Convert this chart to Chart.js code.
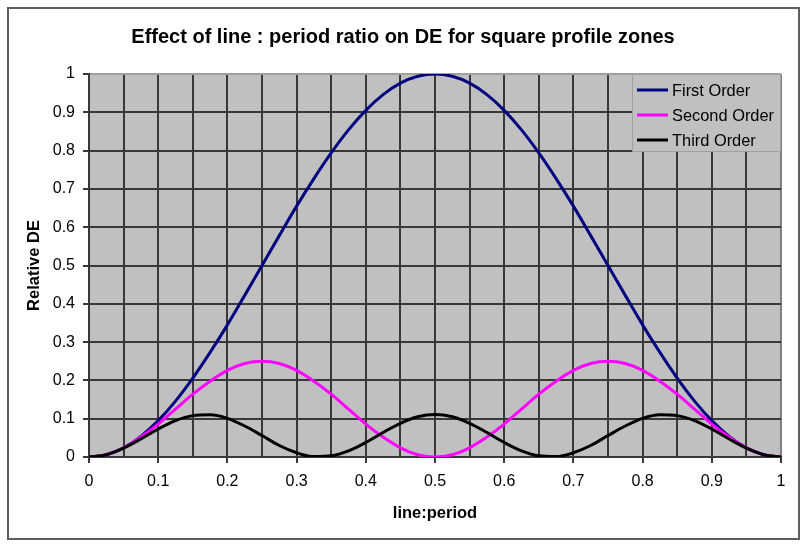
<!DOCTYPE html>
<html>
<head>
	<meta charset="UTF-8">
	<title>Effect of line : period ratio on DE for square profile zones</title>
	<style>
		body { margin: 0; background: #ffffff; }
		#wrap { width: 806px; height: 546px; }
	</style>
	<script src="https://cdnjs.cloudflare.com/ajax/libs/Chart.js/4.4.0/chart.umd.min.js"></script>
</head>
<body>
	<div id="wrap"><canvas id="canvas"></canvas></div>
	<script>
		// line:period values the curves were read at
		var xValues = [0, 0.025, 0.05, 0.075, 0.1, 0.125, 0.15, 0.175, 0.2, 0.225, 0.25, 0.275, 0.3, 0.325, 0.35, 0.375, 0.4, 0.425, 0.45, 0.475, 0.5,
			0.525, 0.55, 0.575, 0.6, 0.625, 0.65, 0.675, 0.7, 0.725, 0.75, 0.775, 0.8, 0.825, 0.85, 0.875, 0.9, 0.925, 0.95, 0.975, 1];
		var firstOrder = [0, 0.006, 0.024, 0.054, 0.095, 0.146, 0.206, 0.273, 0.345, 0.422, 0.5, 0.578, 0.655, 0.727, 0.794, 0.854, 0.905, 0.946, 0.976, 0.994, 1,
			0.994, 0.976, 0.946, 0.905, 0.854, 0.794, 0.727, 0.655, 0.578, 0.5, 0.422, 0.345, 0.273, 0.206, 0.146, 0.095, 0.054, 0.024, 0.006, 0];
		var secondOrder = [0, 0.006, 0.024, 0.052, 0.086, 0.125, 0.164, 0.198, 0.226, 0.244, 0.25, 0.244, 0.226, 0.198, 0.164, 0.125, 0.086, 0.052, 0.024, 0.006, 0,
			0.006, 0.024, 0.052, 0.086, 0.125, 0.164, 0.198, 0.226, 0.244, 0.25, 0.244, 0.226, 0.198, 0.164, 0.125, 0.086, 0.052, 0.024, 0.006, 0];
		var thirdOrder = [0, 0.006, 0.023, 0.047, 0.073, 0.095, 0.108, 0.110, 0.101, 0.081, 0.056, 0.030, 0.011, 0.001, 0.003, 0.016, 0.038, 0.064, 0.088, 0.105, 0.111,
			0.105, 0.088, 0.064, 0.038, 0.016, 0.003, 0.001, 0.011, 0.030, 0.056, 0.081, 0.101, 0.110, 0.108, 0.095, 0.073, 0.047, 0.023, 0.006, 0];
		var seriesNames = ['First Order', 'Second Order', 'Third Order'];
		var seriesColors = ['#000080', '#ff00ff', '#000000'];

		var fontFamily = "'Liberation Sans', Arial, sans-serif";
		Chart.defaults.font.family = fontFamily;
		Chart.defaults.color = '#000000';

		function toPoints(ys) {
			return xValues.map(function(x, i){ return { x: x, y: ys[i] }; });
		}

		// grey plot area, outer frame and the legend box inside the plot
		var excelLook = {
			id: 'excelLook',
			beforeDraw: function(chart){
				var ctx = chart.ctx, a = chart.chartArea;
				ctx.save();
				ctx.fillStyle = '#ffffff';
				ctx.fillRect(0, 0, chart.width, chart.height);
				ctx.strokeStyle = '#5f5f5f';
				ctx.lineWidth = 2;
				ctx.strokeRect(8, 8, 791, 531);
				ctx.fillStyle = '#c0c0c0';
				ctx.fillRect(a.left, a.top, a.right - a.left, a.bottom - a.top);
				ctx.restore();
			},
			afterDraw: function(chart){
				var ctx = chart.ctx, a = chart.chartArea;
				var lx = a.right - 149, ly = a.top, lw = 149, lh = 78;
				ctx.save();
				ctx.fillStyle = '#c0c0c0';
				ctx.fillRect(lx, ly, lw, lh);
				ctx.strokeStyle = '#a0a0a0';
				ctx.lineWidth = 1;
				ctx.strokeRect(lx + 0.5, ly + 0.5, lw - 1, lh - 1);
				ctx.font = '16.4px ' + fontFamily;
				ctx.textBaseline = 'middle';
				chart.data.datasets.forEach(function(ds, i){
					var y = ly + 16 + 25 * i;
					ctx.strokeStyle = ds.borderColor;
					ctx.lineWidth = 3;
					ctx.beginPath();
					ctx.moveTo(lx + 5, y);
					ctx.lineTo(lx + 36, y);
					ctx.stroke();
					ctx.fillStyle = '#000000';
					ctx.fillText(ds.label, lx + 40, y + 1);
				});
				ctx.restore();
			}
		};

		var datasets = [firstOrder, secondOrder, thirdOrder].map(function(ys, i){
			return {
				label: seriesNames[i],
				data: toPoints(ys),
				borderColor: seriesColors[i],
				backgroundColor: seriesColors[i],
				borderWidth: 3,
				pointRadius: 0,
				cubicInterpolationMode: 'monotone',
				fill: false,
				order: 2 - i
			};
		});

		var config = {
			type: 'line',
			data: { datasets: datasets },
			plugins: [excelLook],
			options: {
				responsive: true,
				maintainAspectRatio: false,
				animation: false,
				layout: { padding: { left: 25, top: 0, right: 25, bottom: 0 } },
				plugins: {
					legend: { display: false },
					tooltip: { enabled: false },
					title: {
						display: true,
						text: 'Effect of line : period ratio on DE for square profile zones',
						color: '#000000',
						font: { size: 20, weight: 'bold' },
						padding: { top: 25.5, bottom: 24.5 }
					}
				},
				scales: {
					x: {
						type: 'linear', min: 0, max: 1,
						ticks: {
							stepSize: 0.05, autoSkip: false, maxRotation: 0, padding: 9,
							font: { size: 16 },
							callback: function(v){ var t = Math.round(v * 100); return t % 10 === 0 ? String(t / 100) : ''; }
						},
						grid: {
							lineWidth: 2, tickLength: 6,
							color: function(c){ return c.tick && c.tick.value >= 0.999 ? '#808080' : '#383838'; },
							tickColor: function(c){ return c.tick && Math.round(c.tick.value * 100) % 10 === 0 ? '#383838' : 'rgba(0,0,0,0)'; }
						},
						border: { color: '#383838', width: 2 },
						title: { display: true, text: 'line:period', font: { size: 16.5, weight: 'bold' }, padding: { top: 0, bottom: 23 } },
						afterFit: function(s){ s.height = 89; }
					},
					y: {
						min: 0, max: 1,
						ticks: {
							stepSize: 0.1, padding: 8,
							font: { size: 16 },
							callback: function(v){ return String(Math.round(v * 10) / 10); }
						},
						grid: {
							lineWidth: 2, tickLength: 6,
							color: function(c){ return c.tick && c.tick.value >= 0.999 ? '#a0a0a0' : '#383838'; },
							tickColor: '#383838'
						},
						border: { color: '#383838', width: 2 },
						title: { display: true, text: 'Relative DE', font: { size: 16.5, weight: 'bold' }, padding: { top: 0, bottom: 0 } },
						afterFit: function(s){ s.width = 64; }
					}
				}
			}
		};

		new Chart(document.getElementById('canvas').getContext('2d'), config);
	</script>
</body>
</html>
